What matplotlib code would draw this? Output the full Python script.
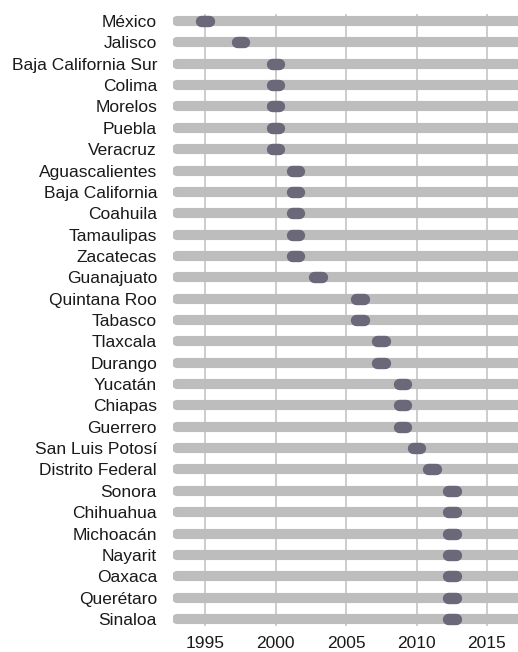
import matplotlib
matplotlib.use("Agg")
import matplotlib.pyplot as plt

states = ["México", "Jalisco", "Baja California Sur", "Colima", "Morelos", "Puebla",
          "Veracruz", "Aguascalientes", "Baja California", "Coahuila", "Tamaulipas",
          "Zacatecas", "Guanajuato", "Quintana Roo", "Tabasco", "Tlaxcala", "Durango",
          "Yucatán", "Chiapas", "Guerrero", "San Luis Potosí", "Distrito Federal",
          "Sonora", "Chihuahua", "Michoacán", "Nayarit", "Oaxaca", "Querétaro", "Sinaloa"]
years = [1995, 1997.5, 2000, 2000, 2000, 2000,
         2000, 2001.4, 2001.4, 2001.4, 2001.4,
         2001.4, 2003, 2006, 2006, 2007.5, 2007.5,
         2009, 2009, 2009, 2010, 2011.1,
         2012.5, 2012.5, 2012.5, 2012.5, 2012.5, 2012.5, 2012.5]
bar_start = 1993
bar_end = 2019
xticks = [1995, 2000, 2005, 2010, 2015]

plt.rcParams['font.family'] = ['Liberation Sans', 'DejaVu Sans']

fig = plt.figure(figsize=(5.18, 6.52), dpi=100)
ax = fig.add_axes([173/518, 1 - 626/652, 1 - 173/518, (626 - 14)/652])

n = len(states)
ypos = list(range(n))
for xt in xticks:
    ax.axvline(xt, color='#c9c9c9', lw=1.3, zorder=0)
ax.hlines(ypos, bar_start, bar_end, color='#bdbdbd', lw=7.3, capstyle='round', zorder=1)
for y, yr in zip(ypos, years):
    ax.plot([yr - 0.27, yr + 0.27], [y, y], color='#6b6979', lw=8.2,
            solid_capstyle='round', zorder=2)

ax.set_xlim(1992.72, 2017.2)
ax.set_ylim(n - 0.67, -0.33)
ax.set_yticks(ypos)
ax.set_yticklabels(states, fontsize=12.5, color='#1a1a1a')
ax.set_xticks(xticks)
ax.set_xticklabels([str(x) for x in xticks], fontsize=12.5, color='#1a1a1a')
ax.tick_params(axis='y', length=0, pad=11.5)
ax.tick_params(axis='x', length=0, pad=7.5)
for s in ax.spines.values():
    s.set_visible(False)

fig.savefig("out.png", dpi=100)
